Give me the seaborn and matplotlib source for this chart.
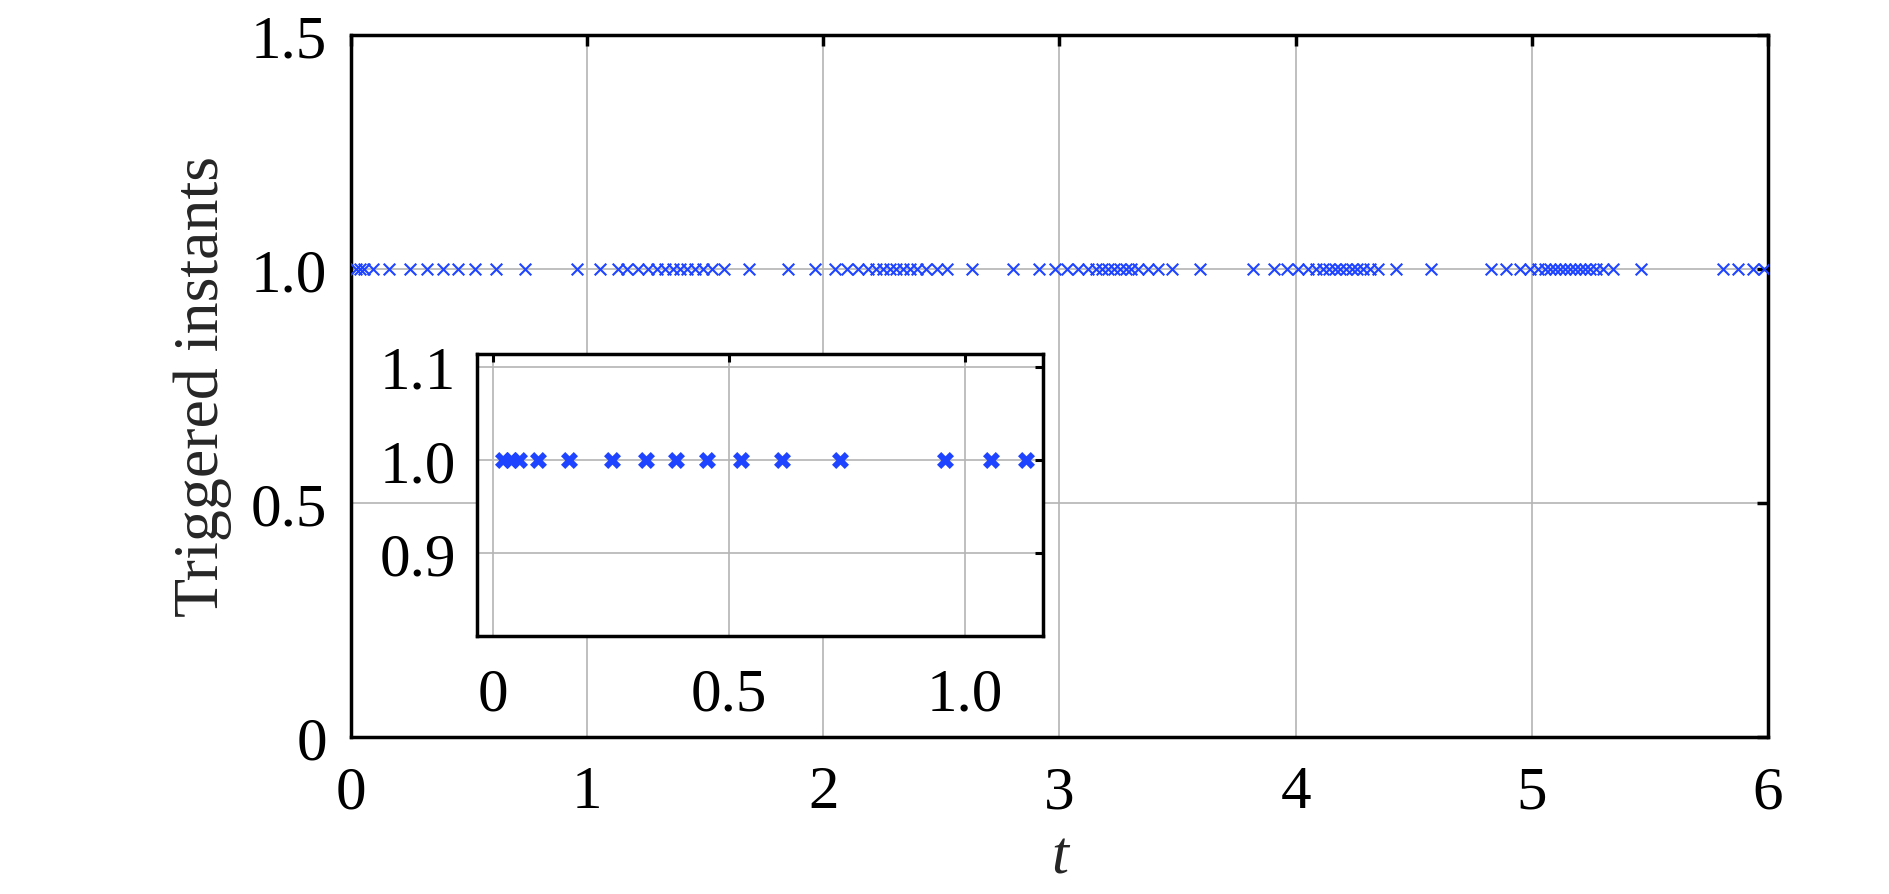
import pandas as pd
import seaborn as sns
import matplotlib.pyplot as plt

# triggered instants
t_events = [
    0.020, 0.039, 0.055, 0.095, 0.161, 0.252, 0.324, 0.388, 0.453, 0.526,
    0.612, 0.735, 0.957, 1.055, 1.129,
    1.170, 1.217, 1.259, 1.297, 1.329, 1.362, 1.393, 1.424, 1.456, 1.489,
    1.527, 1.579, 1.686, 1.851, 1.964,
    2.049, 2.101, 2.148, 2.190, 2.223, 2.254, 2.282, 2.310, 2.338, 2.367,
    2.398, 2.434, 2.480, 2.522, 2.628, 2.804, 2.915,
    2.981, 3.033, 3.079, 3.122, 3.154, 3.182, 3.206, 3.230, 3.256, 3.281,
    3.305, 3.333, 3.376, 3.418, 3.475, 3.594,
    3.820, 3.910, 3.965, 4.011, 4.053, 4.088, 4.117, 4.142, 4.166, 4.190,
    4.213, 4.237, 4.261, 4.286, 4.314, 4.349, 4.427, 4.575,
    4.829, 4.893, 4.950, 4.992, 5.027, 5.055, 5.076, 5.097, 5.119, 5.140,
    5.161, 5.182, 5.203, 5.224, 5.246, 5.274, 5.300, 5.343, 5.464,
    5.810, 5.874, 5.937, 5.985,
]
level = [1.0] * len(t_events)

xticks_main = [0, 1, 2, 3, 4, 5, 6]
xtick_labels_main = ['0', '1', '2', '3', '4', '5', '6']
yticks_main = [0, 0.5, 1.0, 1.5]
ytick_labels_main = ['0', '0.5', '1.0', '1.5']

inset_tmax = 1.15
xticks_inset = [0, 0.5, 1.0]
xtick_labels_inset = ['0', '0.5', '1.0']
yticks_inset = [0.9, 1.0, 1.1]
ytick_labels_inset = ['0.9', '1.0', '1.1']

sns.set_theme(style='white')
plt.rcParams['font.family'] = ['Liberation Serif', 'DejaVu Serif']

df = pd.DataFrame({'t': t_events, 'y': level})
blue = '#1e44ff'
grid_col = '#b4b4b4'

fig = plt.figure(figsize=(18.9, 8.95), dpi=100)

# main axes
ax = fig.add_axes([0.1857, 0.1754, 0.7497, 0.7844])
sns.scatterplot(data=df, x='t', y='y', marker='x', s=70, color=blue,
                linewidth=1.5, ax=ax, zorder=3, legend=False)
ax.set_xlim(0, 6)
ax.set_ylim(0, 1.5)
ax.set_xticks(xticks_main, xtick_labels_main)
ax.set_yticks(yticks_main, ytick_labels_main)
ax.grid(True, color=grid_col, lw=1.2)
ax.set_axisbelow(True)
for sp in ax.spines.values():
    sp.set_linewidth(2.5)
    sp.set_color('black')
ax.tick_params(direction='in', length=8, width=2.5, top=True, right=True,
               labelsize=44, colors='black')
ax.tick_params(axis='y', pad=17)
ax.tick_params(axis='x', pad=20)
ax.set_xlabel('t', fontsize=44, style='italic', labelpad=7)
ax.set_ylabel('Triggered instants', fontsize=46, labelpad=14)

# zoomed inset
axin = fig.add_axes([0.2524, 0.2883, 0.2995, 0.3151])
axin.set_facecolor('white')
sns.scatterplot(data=df[df['t'] < inset_tmax], x='t', y='y', marker='X', s=150,
                color=blue, linewidth=0, ax=axin, zorder=3, legend=False)
axin.set_xlim(-0.034, 1.165)
axin.set_ylim(0.8117, 1.1135)
axin.set_xticks(xticks_inset, xtick_labels_inset)
axin.set_yticks(yticks_inset, ytick_labels_inset)
axin.grid(True, color=grid_col, lw=1.2)
axin.set_axisbelow(True)
for sp in axin.spines.values():
    sp.set_linewidth(2.5)
    sp.set_color('black')
axin.tick_params(direction='in', length=5.5, width=2.2, top=True, right=True,
                 labelsize=44, colors='black')
axin.tick_params(axis='y', pad=15)
axin.tick_params(axis='x', pad=22)
axin.set_xlabel('')
axin.set_ylabel('')

fig.savefig('out.png', dpi=100)
